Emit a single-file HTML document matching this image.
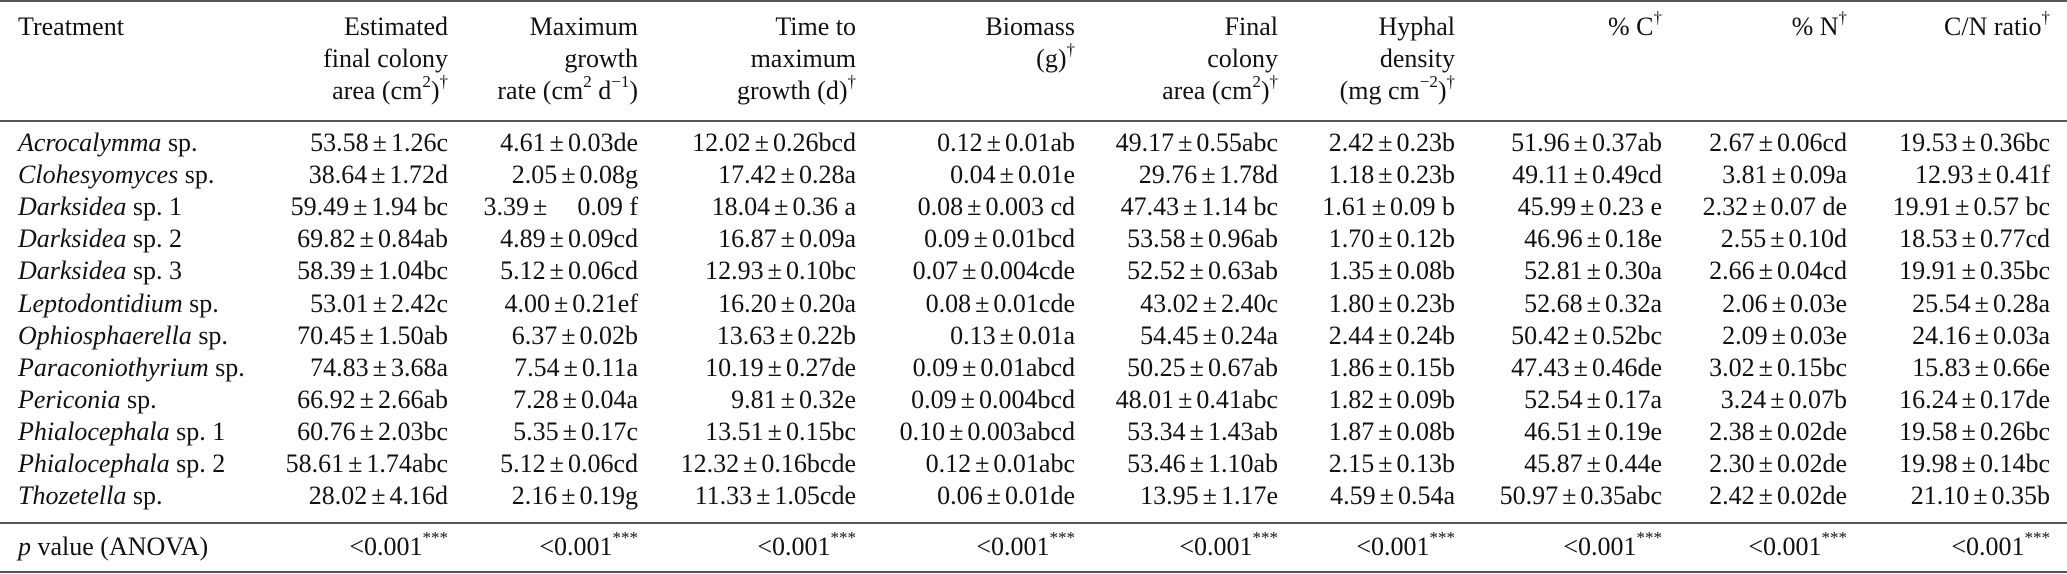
<!DOCTYPE html>
<html>
<head>
<meta charset="utf-8">
<style>
  html, body { margin:0; padding:0; background:#fff; }
  #page { position:relative; width:2067px; height:574px; overflow:hidden; background:#fff;
          font-family:"Liberation Serif", "DejaVu Serif", serif; color:#111; font-size:26px; }
  .cell { position:absolute; line-height:32px; white-space:pre; }
  .r { text-align:right; }
  .rule { position:absolute; left:0; width:2067px; height:2px; background:#555; }
  .pm { margin:0 4px; }
  sup { font-size:17px; line-height:0; position:relative; top:-2px; vertical-align:super; }
  i { font-style:italic; }
</style>
</head>
<body>
<div id="page">
  <div class="rule" style="top:0px"></div>
  <div class="rule" style="top:120px"></div>
  <div class="rule" style="top:522px"></div>
  <div class="rule" style="top:571px"></div>
</div>
<script>
const rightEdges = [448, 638, 856, 1075, 1278, 1455, 1662, 1847, 2050];
const headerLines = [
  ["Estimated","final colony","area (cm<sup>2</sup>)<sup>†</sup>"],
  ["Maximum","growth","rate (cm<sup>2</sup> d<sup>−1</sup>)"],
  ["Time to","maximum","growth (d)<sup>†</sup>"],
  ["Biomass","(g)<sup>†</sup>"],
  ["Final","colony","area (cm<sup>2</sup>)<sup>†</sup>"],
  ["Hyphal","density","(mg cm<sup>−2</sup>)<sup>†</sup>"],
  ["% C<sup>†</sup>"],
  ["% N<sup>†</sup>"],
  ["C/N ratio<sup>†</sup>"]
];
const treatments = [
  ["Acrocalymma"," sp."],["Clohesyomyces"," sp."],["Darksidea"," sp. 1"],["Darksidea"," sp. 2"],
  ["Darksidea"," sp. 3"],["Leptodontidium"," sp."],["Ophiosphaerella"," sp."],["Paraconiothyrium"," sp."],
  ["Periconia"," sp."],["Phialocephala"," sp. 1"],["Phialocephala"," sp. 2"],["Thozetella"," sp."]
];
const values = [
  ["53.58±1.26c","4.61±0.03de","12.02±0.26bcd","0.12±0.01ab","49.17±0.55abc","2.42±0.23b","51.96±0.37ab","2.67±0.06cd","19.53±0.36bc"],
  ["38.64±1.72d","2.05±0.08g","17.42±0.28a","0.04±0.01e","29.76±1.78d","1.18±0.23b","49.11±0.49cd","3.81±0.09a","12.93±0.41f"],
  ["59.49±1.94 bc","3.39±    0.09 f","18.04±0.36 a","0.08±0.003 cd","47.43±1.14 bc","1.61±0.09 b","45.99±0.23 e","2.32±0.07 de","19.91±0.57 bc"],
  ["69.82±0.84ab","4.89±0.09cd","16.87±0.09a","0.09±0.01bcd","53.58±0.96ab","1.70±0.12b","46.96±0.18e","2.55±0.10d","18.53±0.77cd"],
  ["58.39±1.04bc","5.12±0.06cd","12.93±0.10bc","0.07±0.004cde","52.52±0.63ab","1.35±0.08b","52.81±0.30a","2.66±0.04cd","19.91±0.35bc"],
  ["53.01±2.42c","4.00±0.21ef","16.20±0.20a","0.08±0.01cde","43.02±2.40c","1.80±0.23b","52.68±0.32a","2.06±0.03e","25.54±0.28a"],
  ["70.45±1.50ab","6.37±0.02b","13.63±0.22b","0.13±0.01a","54.45±0.24a","2.44±0.24b","50.42±0.52bc","2.09±0.03e","24.16±0.03a"],
  ["74.83±3.68a","7.54±0.11a","10.19±0.27de","0.09±0.01abcd","50.25±0.67ab","1.86±0.15b","47.43±0.46de","3.02±0.15bc","15.83±0.66e"],
  ["66.92±2.66ab","7.28±0.04a","9.81±0.32e","0.09±0.004bcd","48.01±0.41abc","1.82±0.09b","52.54±0.17a","3.24±0.07b","16.24±0.17de"],
  ["60.76±2.03bc","5.35±0.17c","13.51±0.15bc","0.10±0.003abcd","53.34±1.43ab","1.87±0.08b","46.51±0.19e","2.38±0.02de","19.58±0.26bc"],
  ["58.61±1.74abc","5.12±0.06cd","12.32±0.16bcde","0.12±0.01abc","53.46±1.10ab","2.15±0.13b","45.87±0.44e","2.30±0.02de","19.98±0.14bc"],
  ["28.02±4.16d","2.16±0.19g","11.33±1.05cde","0.06±0.01de","13.95±1.17e","4.59±0.54a","50.97±0.35abc","2.42±0.02de","21.10±0.35b"]
];
const pValues = ["&lt;0.001<sup>***</sup>","&lt;0.001<sup>***</sup>","&lt;0.001<sup>***</sup>","&lt;0.001<sup>***</sup>","&lt;0.001<sup>***</sup>","&lt;0.001<sup>***</sup>","&lt;0.001<sup>***</sup>","&lt;0.001<sup>***</sup>","&lt;0.001<sup>***</sup>"];

const page = document.getElementById('page');
const W = 2067, LH = 32;
function place(html, centerY, rightX, leftX) {
  const d = document.createElement('div');
  d.className = 'cell' + (rightX != null ? ' r' : '');
  d.style.top = (centerY - LH/2) + 'px';
  if (rightX != null) d.style.right = (W - rightX) + 'px'; else d.style.left = leftX + 'px';
  d.innerHTML = html;
  page.appendChild(d);
  return d;
}
// header
let h = place('Treatment', 27, null, 18);


headerLines.forEach((lines, c) => {
  lines.forEach((ln, k) => {
    const el = place(ln, 27 + k*32, rightEdges[c], null);
    
    
  });
});
// rows
const rowTop = 143, rowStep = 32.1;
treatments.forEach((t, r) => {
  const y = rowTop + r*rowStep;
  const lab = place('<i>' + t[0] + '</i>' + t[1], y, null, 18);
  
  
  values[r].forEach((v, c) => {
    const parts = v.split('±');
    const el = place(parts[0] + '<span class="pm">±</span>' + parts[1], y, rightEdges[c], null);
    
    
  });
});
// p value row
const pl = place('<i>p</i> value (ANOVA)', 547, null, 18);


pValues.forEach((v, c) => {
  const el = place(v, 547, rightEdges[c], null);
  
  
});
</script>
</body>
</html>
